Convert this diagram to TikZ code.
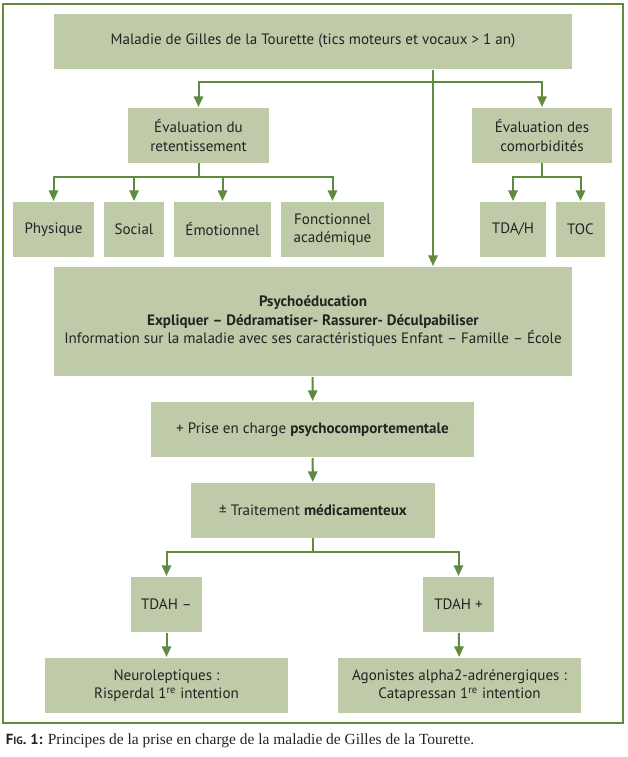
\documentclass[tikz,border=0pt]{standalone}
\usepackage{fontspec}
\setmainfont{PT Sans}[Numbers=OldStyle]
\newfontfamily\capfont{Liberation Serif}
\usepackage{tikz}
\usetikzlibrary{arrows.meta}

\definecolor{sage}{RGB}{191,203,168}
\definecolor{leaf}{RGB}{96,138,64}
\definecolor{ink}{RGB}{35,35,35}

\begin{document}
\begin{tikzpicture}[x=0.75pt,y=-0.75pt,->,>={Triangle[length=8pt,width=7pt]},line width=1.5pt,color=leaf,
    green box/.style={fill=sage,text=ink,align=center,inner sep=0pt,font=\fontsize{11.3}{13.9}\selectfont,minimum height=41.25pt},
    wbox/.style={green box,minimum width=#1*0.75pt},
    bar/.style={-,line cap=rect}]
    \useasboundingbox (0,0) rectangle (628,757);

    % frame
    \draw[-] (3,4) rectangle (622.5,723);

    \node[wbox=518] (top) at (313,41) {Maladie de Gilles de la Tourette (tics moteurs et vocaux > 1 an)};
    \node[wbox=141] (evr) at (198.5,135.5) {Évaluation du\\retentissement};
    \node[wbox=140] (evc) at (542,135.5) {Évaluation des\\comorbidités};

    \node[wbox=81] (phys) at (53.5,229.5) {Physique};
    \node[wbox=60] (soc) at (134,229.5) {Social};
    \node[wbox=97] (emo) at (222.5,229.5) {Émotionnel};
    \node[wbox=103] (fonc) at (332.5,229.5) {Fonctionnel\\académique};
    \node[wbox=66] (tdah) at (513,229.5) {TDA/H};
    \node[wbox=49] (toc) at (580.5,229.5) {TOC};

    \node[wbox=518,minimum height=81.75pt] (psy) at (313,321.5) {\textbf{Psychoéducation}\\\textbf{Expliquer – Dédramatiser- Rassurer- Déculpabiliser}\\Information sur la maladie avec ses caractéristiques Enfant – Famille – École};
    \node[wbox=323] (prise) at (312.5,429.5) {+ Prise en charge \textbf{psychocomportementale}};
    \node[wbox=244] (trait) at (313,510.5) {± Traitement \textbf{médicamenteux}};

    \node[wbox=71] (tdm) at (166.5,604.5) {TDAH –};
    \node[wbox=71] (tdp) at (458.5,604.5) {TDAH +};
    \node[wbox=243] (neuro) at (166.5,685.5) {Neuroleptiques :\\Risperdal 1\textsuperscript{re} intention};
    \node[wbox=243] (ago) at (459.5,685.5) {Agonistes alpha2-adrénergiques :\\Catapressan 1\textsuperscript{re} intention};

    \node[anchor=west,text=ink,inner sep=0pt] (fig) at (5,741) {\fontsize{11}{13}\selectfont\textbf{F{\footnotesize IG}. 1:} \capfont\fontsize{11.6}{13}\selectfont Principes de la prise en charge de la maladie de Gilles de la Tourette.};

    \coordinate (j) at (433,82);
    \coordinate (k) at (0,177);
    \coordinate (m) at (0,552);

    \path
    (top.south -| j) edge (psy.north -| j)
    (evr.north |- j) edge[bar] (evc.north |- j)
    (evr.north |- j) edge (evr.north)
    (evc.north |- j) edge (evc.north)
    (evr.south) edge[bar] (evr.south |- k)
    (phys.north |- k) edge[bar] (fonc.north |- k)
    (phys.north |- k) edge (phys.north)
    (soc.north |- k) edge (soc.north)
    (emo.north |- k) edge (emo.north)
    (fonc.north |- k) edge (fonc.north)
    (evc.south) edge[bar] (evc.south |- k)
    (tdah.north |- k) edge[bar] (toc.north |- k)
    (tdah.north |- k) edge (tdah.north)
    (toc.north |- k) edge (toc.north)
    (psy) edge (prise)
    (prise) edge (trait)
    (trait.south) edge[bar] (trait.south |- m)
    (tdm.north |- m) edge[bar] (tdp.north |- m)
    (tdm.north |- m) edge (tdm.north)
    (tdp.north |- m) edge (tdp.north)
    (tdm) edge (neuro)
    (tdp) edge (ago);
\end{tikzpicture}
\end{document}
